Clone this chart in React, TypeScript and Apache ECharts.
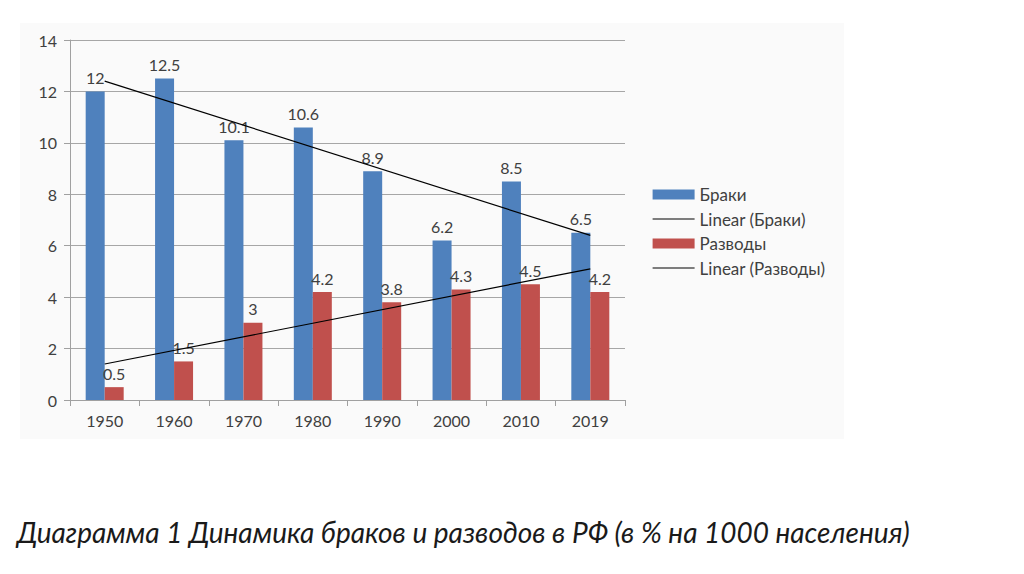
import React, { useEffect, useRef } from "react";
import * as echarts from "echarts";

const categories = ["1950", "1960", "1970", "1980", "1990", "2000", "2010", "2019"];
const braki = [12, 12.5, 10.1, 10.6, 8.9, 6.2, 8.5, 6.5];
const razvody = [0.5, 1.5, 3, 4.2, 3.8, 4.3, 4.5, 4.2];
// trend line endpoints (first and last category)
const trendBraki = [12.4, null, null, null, null, null, null, 6.4];
const trendRazvody = [1.4, null, null, null, null, null, null, 5.1];
const yTicks = { min: 0, max: 14, interval: 2 };
const caption = "Диаграмма 1 Динамика браков и разводов в РФ (в % на 1000 населения)";

const FONT = "Lato, 'Open Sans', sans-serif";

export default function App() {
  const ref = useRef<HTMLDivElement>(null);
  useEffect(() => {
    if (!ref.current) return;
    const chart = echarts.init(ref.current, null, { renderer: "svg" });
    const labelStyle = {
      show: true,
      position: "top",
      distance: 6,
      color: "#404040",
      fontSize: 16,
      fontFamily: FONT,
    };
    const lineLegend = {
      itemStyle: { opacity: 0 },
      lineStyle: { color: "#000000", width: 1.2 },
    };
    chart.setOption({
      animation: false,
      backgroundColor: "#ffffff",
      textStyle: { fontFamily: FONT },
      graphic: [
        {
          type: "rect",
          z: -10,
          shape: { x: 20, y: 23, width: 824, height: 416 },
          style: { fill: "#fafafa" },
          silent: true,
        },
        {
          type: "text",
          left: 17,
          top: 518,
          style: {
            text: caption,
            fontSize: 28,
            fontStyle: "italic",
            fontFamily: FONT,
            fill: "#1a1a1a",
          },
        },
      ],
      grid: { left: 70, right: 399, top: 40, bottom: 174, containLabel: false },
      legend: {
        orient: "vertical",
        left: 647,
        top: 181,
        itemWidth: 42,
        itemHeight: 10,
        itemGap: 7.5,
        textStyle: { fontSize: 17, color: "#404040", fontFamily: FONT },
        data: [
          { name: "Браки", icon: "rect" },
          { name: "Linear (Браки)", ...lineLegend },
          { name: "Разводы", icon: "rect" },
          { name: "Linear (Разводы)", ...lineLegend },
        ],
      },
      xAxis: {
        type: "category",
        data: categories,
        axisLine: { lineStyle: { color: "#a0a0a0", width: 1 } },
        axisTick: { show: true, length: 6, lineStyle: { color: "#a0a0a0" } },
        axisLabel: { color: "#404040", fontSize: 16, margin: 12, fontFamily: FONT },
      },
      yAxis: {
        type: "value",
        min: yTicks.min,
        max: yTicks.max,
        interval: yTicks.interval,
        axisLine: { show: true, lineStyle: { color: "#a0a0a0", width: 1 } },
        axisTick: { show: true, length: 6, lineStyle: { color: "#a0a0a0" } },
        axisLabel: { color: "#404040", fontSize: 16, margin: 13, fontFamily: FONT },
        splitLine: { lineStyle: { color: "#a6a6a6", width: 1 } },
      },
      series: [
        {
          name: "Браки",
          type: "bar",
          data: braki,
          barWidth: 19,
          barGap: "0%",
          itemStyle: { color: "#4f81bd" },
          label: labelStyle,
        },
        {
          name: "Разводы",
          type: "bar",
          data: razvody,
          barWidth: 19,
          barGap: "0%",
          itemStyle: { color: "#c0504d" },
          label: labelStyle,
        },
        {
          name: "Linear (Браки)",
          type: "line",
          data: trendBraki,
          connectNulls: true,
          symbol: "none",
          z: 5,
          lineStyle: { color: "#000000", width: 1.2 },
          itemStyle: { color: "#000000" },
        },
        {
          name: "Linear (Разводы)",
          type: "line",
          data: trendRazvody,
          connectNulls: true,
          symbol: "none",
          z: 5,
          lineStyle: { color: "#000000", width: 1.2 },
          itemStyle: { color: "#000000" },
        },
      ],
    });
    return () => chart.dispose();
  }, []);
  return (
    <div
      ref={ref}
      style={{ position: "fixed", left: 0, top: 0, width: 1024, height: 574 }}
    />
  );
}
